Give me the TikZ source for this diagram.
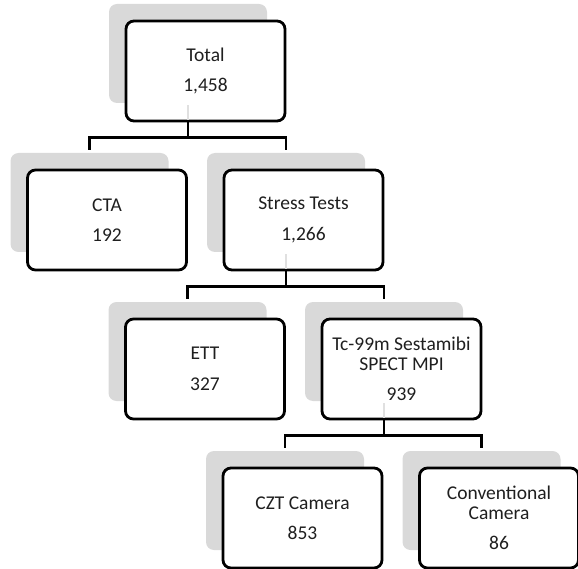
\documentclass[tikz,border=0pt]{standalone}
\usepackage{fontspec}
\setmainfont{Carlito}
\begin{document}
\begin{tikzpicture}[x=1pt,y=-1pt,
  shadebox/.style={fill=black!15, rounded corners=8pt, minimum width=158pt, minimum height=99pt, inner sep=0pt, draw=none},
  box/.style={draw=black, line width=2.8pt, fill=white, rounded corners=8pt, minimum width=159pt, minimum height=100pt, align=center, inner sep=0pt, font=\fontsize{19.5}{20.5}\selectfont, text=black!88},
  link/.style={line width=2.7pt, draw=black},
  ghost/.style={line width=2pt, draw=black!12}]
\useasboundingbox (0,0) rectangle (578,569);
% shadows
\node[shadebox] (s0) at (188,53.5) {};
\node[shadebox] (s1) at (89.5,202.5) {};
\node[shadebox] (s2) at (286,202.5) {};
\node[shadebox] (s3) at (187.5,351.5) {};
\node[shadebox] (s4) at (384,351.5) {};
\node[shadebox] (s5) at (285,500.5) {};
\node[shadebox] (s6) at (481.5,500.5) {};
% connectors
\coordinate (j0) at ([yshift=-34pt]s0.south);
\coordinate (j2) at ([yshift=-34pt]s2.south);
\coordinate (j4) at ([yshift=-34pt]s4.south);
\draw[link] (s0.south) -- (j0);
\draw[link] ([yshift=3pt]s1.north) |- (j0) -| ([yshift=3pt]s2.north);
\draw[link] (s2.south) -- (j2);
\draw[link] ([yshift=3pt]s3.north) |- (j2) -| ([yshift=3pt]s4.north);
\draw[link] (s4.south) -- (j4);
\draw[link] ([yshift=3pt]s5.north) |- (j4) -| ([yshift=3pt]s6.north);
% boxes
\node[box] (b0) at ([shift={(17.5,17.5)}]s0.center) {Total\\[10pt]1,458};
\node[box] (b1) at ([shift={(17.5,17.5)}]s1.center) {CTA\\[10pt]192};
\node[box] (b2) at ([shift={(17.5,17.5)}]s2.center) {Stress Tests\\[10pt]1,266};
\node[box] (b3) at ([shift={(17.5,17.5)}]s3.center) {ETT\\[10pt]327};
\node[box] (b4) at ([shift={(17.5,17.5)}]s4.center) {Tc-99m Sestamibi\\SPECT MPI\\[9.5pt]939};
\node[box] (b5) at ([shift={(17.5,17.5)}]s5.center) {CZT Camera\\[10pt]853};
\node[box] (b6) at ([shift={(17.5,17.5)}]s6.center) {Conventional\\Camera\\[9.5pt]86};
% faint connector parts seen through the boxes
\draw[ghost] ([yshift=-2pt]s0.south) -- ([yshift=2pt]s0.south |- b0.south);
\draw[ghost] ([yshift=-2pt]s2.south) -- ([yshift=2pt]s2.south |- b2.south);
\draw[ghost] ([yshift=-2pt]s4.south) -- ([yshift=2pt]s4.south |- b4.south);
\end{tikzpicture}
\end{document}
